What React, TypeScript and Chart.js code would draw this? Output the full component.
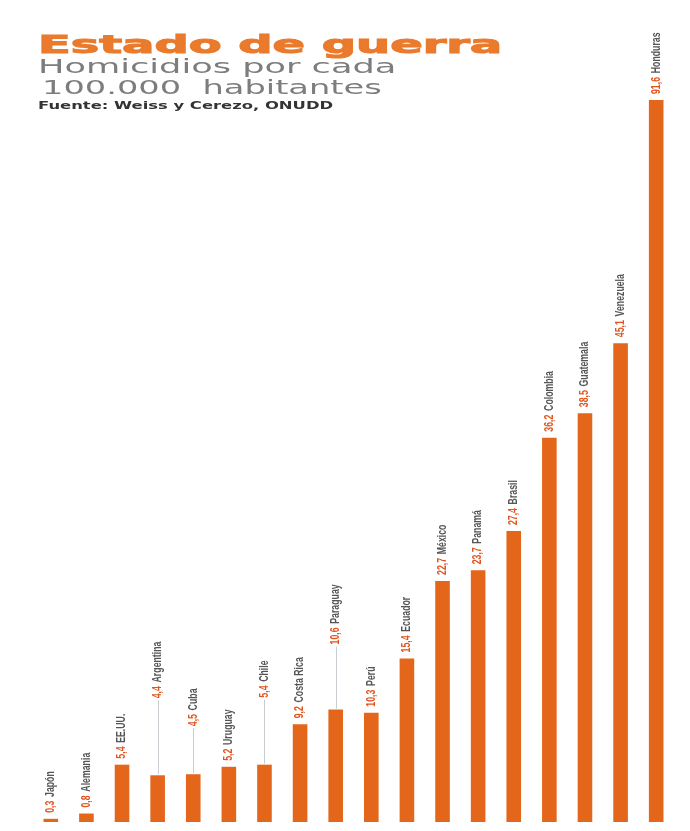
import React, { useEffect, useLayoutEffect, useRef, useState } from "react";
import { Chart, registerables } from "chart.js";

Chart.register(...registerables);

// ---- Data ----
const paises = [
  "Japón", "Alemania", "EE.UU.", "Argentina", "Cuba", "Uruguay", "Chile",
  "Costa Rica", "Paraguay", "Perú", "Ecuador", "México", "Panamá", "Brasil",
  "Colombia", "Guatemala", "Venezuela", "Honduras",
];
const tasas = [
  0.3, 0.8, 5.4, 4.4, 4.5, 5.2, 5.4, 9.2, 10.6, 10.3, 15.4, 22.7, 23.7, 27.4,
  36.2, 38.5, 45.1, 91.6,
];
const titulo = "Estado de guerra";
const subtitulo1 = "Homicidios por cada";
const subtitulo2 = "100.000  habitantes";
const fuente = "Fuente: Weiss y Cerezo, ONUDD";
const ejeMaximo = 68; // the Honduras bar is cut at the top of the graphic

// ---- Layout (not data) ----
const elevacion: Record<string, number> = { Argentina: 71, Cuba: 42, Chile: 61, Paraguay: 59 };
const NARANJA = "#E4661A";
const VALOR = "#E2521C";
const NOMBRE = "#555555";

const fmt = (v: number) => v.toFixed(1).replace(".", ",");

const etiquetasPlugin = {
  id: "etiquetas",
  afterDatasetsDraw(chart: any) {
    const ctx: CanvasRenderingContext2D = chart.ctx;
    const meta = chart.getDatasetMeta(0);
    const top = chart.chartArea.top;
    meta.data.forEach((bar: any, i: number) => {
      const x = bar.x;
      const barTop = Math.max(bar.y, top);
      const lift = elevacion[paises[i]] || 0;
      const bottom = barTop - 6 - lift;
      if (lift) {
        ctx.save();
        ctx.strokeStyle = "#c9cdd2";
        ctx.lineWidth = 1;
        ctx.beginPath();
        ctx.moveTo(Math.round(x) + 0.5, bottom + 2);
        ctx.lineTo(Math.round(x) + 0.5, barTop - 1);
        ctx.stroke();
        ctx.restore();
      }
      ctx.save();
      ctx.translate(x, bottom);
      ctx.rotate(-Math.PI / 2);
      ctx.scale(0.73, 1);
      ctx.textBaseline = "middle";
      ctx.textAlign = "left";
      ctx.font = "bold 12px 'Liberation Sans', Arial, sans-serif";
      const v = fmt(tasas[i]);
      ctx.fillStyle = VALOR;
      ctx.fillText(v, 0, 0);
      const w = ctx.measureText(v).width;
      ctx.fillStyle = NOMBRE;
      ctx.fillText(paises[i], w + 5, 0);
      ctx.restore();
    });
  },
};

function StretchText(props: {
  text: string; left: number; top: number; width: number; size: number;
  weight: string; color: string; family: string; spacing?: number; stroke?: number;
}) {
  const ref = useRef<HTMLSpanElement>(null);
  const [k, setK] = useState(1);
  useLayoutEffect(() => {
    if (ref.current) {
      const w = ref.current.offsetWidth;
      if (w) setK(props.width / w);
    }
  }, [props.text, props.width]);
  return (
    <span
      ref={ref}
      style={{
        position: "absolute",
        left: props.left,
        top: props.top,
        fontFamily: props.family,
        fontSize: props.size,
        fontWeight: props.weight as any,
        color: props.color,
        lineHeight: 1,
        letterSpacing: props.spacing || 0,
        whiteSpace: "pre",
        display: "inline-block",
        transformOrigin: "0 0",
        transform: `scaleX(${k})`,
        WebkitTextStroke: props.stroke ? `${props.stroke}px ${props.color}` : undefined,
      }}
    >
      {props.text}
    </span>
  );
}

export default function App() {
  const canvasRef = useRef<HTMLCanvasElement>(null);

  useEffect(() => {
    if (!canvasRef.current) return;
    const chart = new Chart(canvasRef.current, {
      type: "bar",
      data: {
        labels: paises,
        datasets: [
          {
            data: tasas,
            backgroundColor: NARANJA,
            borderWidth: 0,
            barPercentage: 0.41,
            categoryPercentage: 1,
          },
        ],
      },
      options: {
        responsive: false,
        maintainAspectRatio: false,
        animation: false,
        layout: { padding: { left: 33, right: 16, top: 100, bottom: 9 } },
        scales: {
          x: { display: false },
          y: { display: false, min: 0, max: ejeMaximo },
        },
        plugins: {
          legend: { display: false },
          tooltip: { enabled: false },
          title: { display: false },
        },
      },
      plugins: [etiquetasPlugin],
    });
    return () => chart.destroy();
  }, []);

  return (
    <div style={{ position: "fixed", left: 0, top: 0, width: 690, height: 831, background: "#fff", overflow: "hidden" }}>
      <canvas ref={canvasRef} width={690} height={831} style={{ position: "absolute", left: 0, top: 0, width: 690, height: 831 }} />
      <StretchText text={titulo} left={38} top={32.5} width={465} size={24} weight="bold" color="#EA7A2C" family="'DejaVu Sans', sans-serif" stroke={1} />
      <StretchText text={subtitulo1} left={38} top={57} width={359} size={19} weight="normal" color="#7d7d7d" family="'DejaVu Sans', sans-serif" />
      <StretchText text={subtitulo2} left={42} top={78} width={340} size={19} weight="normal" color="#7d7d7d" family="'DejaVu Sans', sans-serif" />
      <StretchText text={fuente} left={38} top={100} width={295} size={11} weight="bold" color="#333" family="'DejaVu Sans', sans-serif" />
    </div>
  );
}
